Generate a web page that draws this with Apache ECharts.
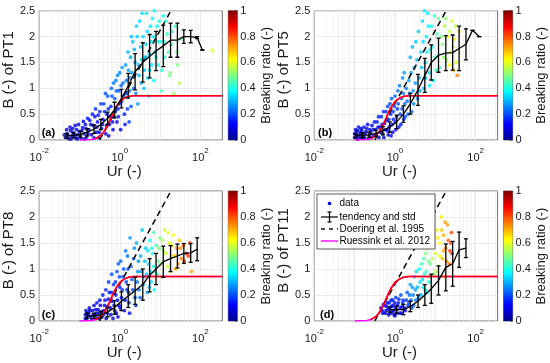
<!DOCTYPE html>
<html><head><meta charset="utf-8">
<script src="https://cdn.jsdelivr.net/npm/echarts@6/dist/echarts.min.js"></script>
<style>html,body{margin:0;padding:0;background:#fff}#c{width:550px;height:363px}</style>
</head><body><div id="c"></div>
<script>
// ---------------- data ----------------
const panelLabels = ['(a)', '(b)', '(c)', '(d)'];
const yNames = ['B (-) of PT1', 'B (-) of PT5', 'B (-) of PT8', 'B (-) of PT11'];
const xTickExponents = [-2, 0, 2];
const yTicks = [0, 0.5, 1, 1.5, 2, 2.5];
const cbTicks = [0, 0.2, 0.4, 0.6, 0.8, 1];
const legendNames = ['data', 'tendency and std', 'Doering et al. 1995', 'Ruessink et al. 2012'];

// scatter: [Ur, B, breaking ratio]
const scatterA = [
[0.045,0.05,0.05],[0.05,0.12,0.06],[0.055,0.02,0.05],[0.06,0.18,0.08],[0.065,0.08,0.05],[0.07,0.14,0.07],[0.08,0.04,0.06],[0.085,0.2,0.1],[0.09,0.1,0.06],[0.1,0.16,0.08],[0.11,0.03,0.05],[0.12,0.24,0.1],
[0.13,0.12,0.08],[0.14,0.3,0.12],[0.15,0.06,0.06],[0.17,0.2,0.1],[0.18,0.38,0.12],[0.2,0.1,0.07],[0.22,0.28,0.12],[0.24,0.45,0.14],[0.26,0.15,0.08],[0.28,0.35,0.12],[0.3,0.05,0.06],
[0.32,0.55,0.15],[0.35,0.22,0.1],[0.38,0.4,0.12],[0.4,0.7,0.18],[0.45,0.12,0.08],[0.48,0.5,0.14],[0.5,0.85,0.2],[0.55,0.3,0.12],[0.6,0.65,0.16],[0.62,1.0,0.22],[0.68,0.2,0.1],[0.72,0.45,0.14],[0.75,0.8,0.2],[0.8,1.15,0.25],
[0.85,0.35,0.12],[0.9,0.6,0.16],[0.95,0.95,0.2],[1.0,1.3,0.26],[1.05,0.2,0.12],[1.1,0.75,0.18],[1.2,1.1,0.22],[1.3,0.5,0.15],[1.4,1.45,0.28],[1.5,0.9,0.2],[1.6,1.7,0.3],[1.7,0.35,0.18],[1.8,1.2,0.25],[1.9,0.65,0.22],
[2.1,1.9,0.32],[2.2,1.0,0.24],[2.4,1.5,0.3],[2.6,2.2,0.34],[2.8,0.7,0.28],[3.0,1.25,0.3],[3.3,1.8,0.33],[3.6,2.45,0.35],[4,1.0,0.32],[4.3,1.6,0.33],[4.8,2.1,0.35],[5.2,0.85,0.38],[5.5,1.35,0.34],[6,1.9,0.36],[6.5,2.35,0.37],[7,1.15,0.38],[7.5,1.7,0.36],
[8.5,2.2,0.38],[9,1.45,0.4],[10,1.9,0.4],[11,0.95,0.45],[12,2.4,0.38],[13,1.6,0.42],[15,2.05,0.42],[17,1.25,0.5],[19,1.85,0.45],[22,0.9,0.52],[24,2.2,0.42],[27,1.45,0.5],[30,1.1,0.55],[35,1.95,0.48],
[200,1.73,0.6],
[0.042,0.1,0.05],[0.048,0.2,0.07],[0.052,0.08,0.05],[0.058,0.25,0.08],[0.062,0.02,0.05],[0.068,0.22,0.08],[0.075,0.1,0.06],[0.078,0.28,0.1],[0.088,0.02,0.05],[0.095,0.3,0.1],[0.105,0.08,0.06],[0.115,0.18,0.08],[0.125,0.36,0.12],[0.135,0.02,0.05],[0.145,0.22,0.08],[0.16,0.42,0.14],[0.165,0.12,0.07],[0.19,0.3,0.1],[0.21,0.5,0.14],[0.23,0.04,0.06],[0.25,0.6,0.16],[0.27,0.25,0.1],[0.29,0.48,0.14],[0.31,0.15,0.08],[0.34,0.7,0.18],[0.37,0.3,0.12],[0.42,0.55,0.15],[0.44,0.9,0.2],[0.47,0.28,0.11],[0.52,0.6,0.16],[0.53,0.08,0.07],[0.58,0.45,0.14],[0.64,0.85,0.2],[0.66,0.35,0.12],[0.7,1.1,0.24],[0.78,0.55,0.16],[0.82,0.95,0.22],[0.88,1.25,0.26],[0.92,0.45,0.15],[0.98,0.7,0.18],[1.08,1.05,0.22],[1.15,1.4,0.28],[1.25,0.85,0.2],[1.35,0.3,0.14],[1.45,1.15,0.25],[1.55,0.6,0.18],[1.65,1.35,0.28],[1.75,0.95,0.22],[1.85,1.6,0.3],[1.95,2.0,0.32],
[2.0,1.3,0.28],[2.3,1.75,0.3],[2.5,0.9,0.26],[2.7,2.0,0.33],[2.9,1.45,0.3],[3.1,2.3,0.34],[3.4,1.1,0.3],[3.5,1.55,0.32],[3.8,2.0,0.34],[4.1,1.35,0.32],[4.5,1.85,0.34],[4.6,2.45,0.36],[5,1.2,0.34],[5.4,1.65,0.34],[5.8,2.2,0.36],[6.2,1.45,0.36],[6.8,2.0,0.36],[7.2,2.5,0.38],[8,1.6,0.38],[8.8,1.9,0.4],[9.5,2.3,0.4],[11,1.35,0.42],[12.5,1.9,0.4],[14,2.3,0.42],[16,1.7,0.44],[18,1.3,0.5],[20,2.1,0.44],[26,1.7,0.48]
];
const scatterB = [
[0.1,0.05,0.05],[0.11,0.15,0.07],[0.12,0.02,0.05],[0.13,0.1,0.06],[0.15,0.18,0.08],[0.16,0.05,0.05],[0.18,0.12,0.07],[0.2,0.22,0.1],[0.22,0.03,0.05],[0.25,0.15,0.08],[0.27,0.28,0.12],[0.3,0.08,0.06],[0.33,0.2,0.1],[0.36,0.35,0.14],[0.4,0.05,0.06],[0.42,0.25,0.12],[0.46,0.45,0.16],[0.5,0.12,0.08],[0.55,0.32,0.13],[0.6,0.55,0.18],[0.65,0.18,0.1],[0.7,0.4,0.15],[0.75,0.7,0.2],[0.8,0.08,0.08],[0.85,0.3,0.14],[0.9,0.55,0.18],[1.0,0.85,0.22],[1.05,0.2,0.12],[1.1,0.45,0.16],[1.2,0.7,0.2],[1.3,1.05,0.25],[1.4,0.3,0.15],[1.5,0.6,0.2],[1.6,0.9,0.24],[1.7,1.3,0.28],[1.8,0.45,0.2],[2.0,0.75,0.24],[2.2,1.15,0.28],[2.4,1.6,0.3],[2.6,0.55,0.22],[2.8,0.95,0.27],[3.0,1.4,0.3],[3.3,1.9,0.32],[3.6,0.8,0.27],[4,1.2,0.3],[4.4,1.7,0.33],[4.8,2.3,0.34],[5.2,1.0,0.3],[5.6,1.5,0.34],[6,2.0,0.36],[6.5,2.45,0.36],[7,1.3,0.35],[7.5,1.75,0.38],[8,2.2,0.4],[9,1.15,0.38],[10,1.6,0.42],[11,2.05,0.45],[12,2.35,0.48],[13,1.4,0.45],[15,1.85,0.5],[17,2.2,0.55],[19,1.55,0.55],[21,2.0,0.6],[24,1.7,0.62],[26,2.3,0.58],[28,1.35,0.7],[30,1.95,0.65],[33,1.5,0.6],[35,1.25,0.75],[38,2.1,0.6],
[0.1,0.12,0.06],[0.105,0.2,0.08],[0.115,0.08,0.05],[0.12,0.18,0.07],[0.125,0.25,0.1],[0.14,0.05,0.05],[0.14,0.14,0.06],[0.145,0.22,0.09],[0.155,0.1,0.06],[0.17,0.25,0.1],[0.175,0.05,0.05],[0.19,0.16,0.07],[0.21,0.3,0.12],[0.23,0.1,0.06],[0.24,0.2,0.08],[0.26,0.05,0.05],[0.29,0.2,0.09],[0.31,0.35,0.14],[0.34,0.1,0.07],[0.38,0.25,0.11],[0.39,0.45,0.16],[0.44,0.15,0.08],[0.48,0.3,0.12],[0.52,0.55,0.17],[0.53,0.05,0.06],[0.58,0.2,0.1],[0.62,0.38,0.14],[0.66,0.65,0.19],[0.68,0.1,0.08],[0.72,0.25,0.12],[0.78,0.5,0.16],[0.82,0.8,0.21],[0.88,0.15,0.1],[0.92,0.4,0.15],[0.96,0.65,0.19],[1.02,0.35,0.15],[1.15,0.6,0.18],[1.18,0.95,0.23],[1.25,0.25,0.14],[1.35,0.5,0.18],[1.45,0.8,0.22],[1.55,1.2,0.27],[1.65,0.4,0.18],[1.75,0.7,0.22],[1.9,1.0,0.25],[2.1,0.5,0.22],[2.3,0.9,0.26],[2.5,1.3,0.29],[2.7,1.8,0.31],[2.9,0.7,0.25],[3.2,1.1,0.28],[3.5,1.55,0.31],[3.8,2.1,0.33],[4.2,0.95,0.29],[4.6,1.4,0.32],[5,1.9,0.34],[5.4,2.5,0.36],[5.8,1.2,0.33],[6.2,1.7,0.36],[6.8,2.2,0.37],[7.2,1.05,0.36],[8.5,1.8,0.4],[9.5,2.4,0.42],[10.5,1.35,0.42],[14,2.0,0.5],[16,1.6,0.52],[18,2.35,0.52],[22,1.45,0.62],[23,2.1,0.58],[27,1.8,0.6],[32,2.2,0.56]
];
const scatterC = [
[0.14,0.05,0.05],[0.15,0.15,0.06],[0.16,0.1,0.05],[0.18,0.2,0.08],[0.2,0.03,0.05],[0.22,0.12,0.06],[0.25,0.22,0.08],[0.28,0.06,0.05],[0.3,0.15,0.07],[0.33,0.3,0.1],[0.36,0.08,0.06],[0.4,0.2,0.08],[0.43,0.4,0.12],[0.46,0.05,0.06],[0.5,0.28,0.1],[0.55,0.55,0.15],[0.6,0.12,0.08],[0.65,0.38,0.12],[0.7,0.7,0.18],[0.75,0.2,0.1],[0.8,0.5,0.14],[0.85,0.95,0.2],[0.9,0.08,0.08],[0.95,0.3,0.12],[1.0,0.65,0.16],[1.05,1.15,0.22],[1.1,0.45,0.14],[1.2,0.85,0.2],[1.3,0.2,0.12],[1.4,1.35,0.25],[1.5,0.6,0.18],[1.6,1.0,0.22],[1.7,0.35,0.16],[1.8,1.6,0.28],[2.0,0.8,0.22],[2.2,1.2,0.26],[2.4,0.45,0.2],[2.6,1.5,0.3],[2.8,0.95,0.26],[3.0,0.6,0.24],[3.3,1.25,0.3],[3.6,1.75,0.32],[4,0.85,0.3],[4.4,1.4,0.33],[4.8,0.55,0.3],[5.2,1.1,0.34],[5.6,1.55,0.38],[6,0.75,0.36],[6.5,1.3,0.4],[7,1.7,0.45],[7.5,0.95,0.42],[8,1.45,0.45],[9,1.15,0.48],[10,1.6,0.5],[11,0.85,0.5],[12,1.35,0.55],[13,1.75,0.58],[15,1.05,0.58],[17,1.5,0.6],[19,1.25,0.65],[21,1.65,0.62],[24,1.0,0.7],[26,1.4,0.72],[30,1.55,0.68],[34,1.2,0.75],[38,1.45,0.78],[45,1.3,0.85],[55,1.5,0.8],[60,0.95,0.72],
[0.14,0.12,0.06],[0.145,0.2,0.07],[0.15,0.05,0.05],[0.17,0.15,0.06],[0.175,0.25,0.09],[0.19,0.08,0.05],[0.21,0.2,0.07],[0.23,0.3,0.1],[0.24,0.1,0.06],[0.26,0.15,0.06],[0.27,0.35,0.12],[0.29,0.22,0.08],[0.31,0.05,0.05],[0.32,0.4,0.13],[0.35,0.18,0.07],[0.38,0.5,0.14],[0.39,0.12,0.06],[0.42,0.3,0.1],[0.45,0.6,0.16],[0.48,0.15,0.07],[0.52,0.42,0.12],[0.53,0.75,0.18],[0.58,0.25,0.1],[0.62,0.55,0.15],[0.63,0.9,0.2],[0.68,0.05,0.07],[0.72,0.3,0.11],[0.78,0.75,0.18],[0.82,0.15,0.09],[0.88,0.4,0.13],[0.92,1.1,0.22],[0.98,0.85,0.19],[1.02,0.25,0.11],[1.15,0.6,0.16],[1.25,1.0,0.21],[1.35,0.4,0.14],[1.45,0.75,0.19],[1.55,1.25,0.24],[1.65,0.55,0.18],[1.75,0.15,0.13],[1.9,1.05,0.23],[2.1,0.6,0.2],[2.3,1.4,0.27],[2.5,0.3,0.18],[2.7,0.75,0.23],[2.9,1.15,0.27],[3.2,0.45,0.22],[3.4,0.95,0.27],[3.8,0.7,0.27],[4.2,1.15,0.31],[4.6,0.9,0.31],[5,1.35,0.35],[5.4,0.65,0.32],[5.8,0.95,0.36],[6.2,1.4,0.4],[6.8,1.05,0.4],[7.2,0.6,0.38],[8.5,0.9,0.45],[9.5,1.4,0.5],[10.5,1.1,0.5],[11.5,1.55,0.55],[14,1.3,0.58],[16,1.7,0.6],[18,0.95,0.62],[20,1.45,0.65],[23,1.25,0.68],[28,1.1,0.72],[32,1.4,0.74],[40,1.15,0.8],[50,1.25,0.82]
];
const scatterD = [
[0.45,0.25,0.1],[0.5,0.15,0.08],[0.55,0.3,0.12],[0.6,0.2,0.08],[0.65,0.35,0.14],[0.7,0.12,0.06],[0.75,0.25,0.1],[0.8,0.4,0.16],[0.85,0.18,0.08],[0.9,0.3,0.12],[1.0,0.1,0.06],[1.05,0.45,0.18],[1.1,0.22,0.1],[1.2,0.35,0.14],[1.3,0.15,0.08],[1.4,0.5,0.2],[1.5,0.28,0.15],[1.6,0.4,0.18],[1.8,0.2,0.12],[2.0,0.55,0.22],[2.2,0.35,0.2],[2.4,0.7,0.28],[2.6,0.25,0.18],[2.8,0.5,0.25],[3.0,0.85,0.32],[3.3,0.4,0.25],[3.6,0.65,0.3],[4,1.0,0.38],[4.4,0.5,0.3],[4.8,0.8,0.36],[5.2,1.2,0.45],[5.6,0.6,0.35],[6,0.95,0.42],[6.5,1.4,0.5],[7,0.75,0.4],[7.5,1.1,0.48],[8,1.6,0.55],[9,0.9,0.5],[10,1.3,0.58],[11,1.75,0.6],[12,1.05,0.55],[13,1.5,0.62],[14,2.0,0.65],[15,1.2,0.68],[16,1.65,0.7],[17,0.85,0.62],[18,1.4,0.75],[20,1.85,0.72],[22,1.1,0.78],[24,1.5,0.8],[26,1.3,0.88],
[0.48,0.2,0.08],[0.52,0.32,0.12],[0.58,0.15,0.07],[0.62,0.28,0.1],[0.68,0.22,0.09],[0.72,0.35,0.14],[0.78,0.15,0.07],[0.82,0.28,0.11],[0.88,0.4,0.15],[0.92,0.2,0.08],[0.95,0.12,0.07],[0.98,0.35,0.14],[1.02,0.25,0.1],[1.08,0.15,0.08],[1.15,0.3,0.12],[1.25,0.42,0.16],[1.35,0.25,0.11],[1.45,0.15,0.1],[1.55,0.35,0.16],[1.7,0.25,0.14],[1.9,0.4,0.18],[2.1,0.3,0.18],[2.3,0.5,0.23],[2.5,0.4,0.22],[2.7,0.65,0.28],[2.9,0.3,0.22],[3.2,0.6,0.28],[3.4,0.95,0.34],[3.8,0.45,0.28],[4.2,0.75,0.34],[4.6,1.1,0.42],[5,0.65,0.36],[5.4,0.9,0.42],[5.8,1.3,0.5],[6.2,0.55,0.38],[6.8,1.15,0.5],[7.2,0.85,0.46],[8.5,1.2,0.55],[9.5,1.45,0.6],[10.5,0.95,0.56],[11.5,1.6,0.64],[13,1.25,0.62],[14.5,1.75,0.68],[16,1.35,0.7],[17.5,1.9,0.72],[19,1.15,0.74],[21,1.55,0.78],[23,1.35,0.82],[25,1.7,0.8]
];

// tendency: [Ur, mean B, std]
const trendA = [[0.048,0.08,0.05],[0.071,0.09,0.05],[0.105,0.11,0.06],[0.155,0.15,0.07],[0.229,0.21,0.08],[0.339,0.3,0.1],[0.5,0.42,0.12],[0.74,0.58,0.15],[1.1,0.8,0.18],[1.62,1.05,0.24],[2.4,1.32,0.35],[3.72,1.5,0.38],[5.5,1.62,0.42],[7.94,1.72,0.38],[12,1.82,0.4],[18.2,1.93,0.33],[26.9,1.93,0.33],[38.9,2.0,0.13],[57.5,2.0,0.12],[83.2,1.98,0.02],[112,1.74,0]];
const trendB = [[0.105,0.08,0.04],[0.155,0.09,0.05],[0.229,0.1,0.05],[0.339,0.13,0.06],[0.5,0.18,0.08],[0.74,0.25,0.1],[1.1,0.35,0.13],[1.62,0.5,0.16],[2.4,0.7,0.2],[3.72,0.97,0.3],[5.5,1.25,0.33],[7.94,1.5,0.34],[12,1.64,0.33],[18.2,1.68,0.34],[26.9,1.69,0.34],[38.9,1.77,0.43],[57.5,1.85,0.3],[83.2,2.12,0],[123,2.0,0]];
const trendC = [[0.155,0.1,0.05],[0.229,0.1,0.05],[0.339,0.12,0.06],[0.5,0.17,0.09],[0.74,0.26,0.13],[1.1,0.38,0.18],[1.62,0.48,0.22],[2.4,0.58,0.26],[3.72,0.7,0.3],[5.5,0.88,0.32],[7.94,1.0,0.3],[12,1.14,0.3],[18.2,1.2,0.25],[26.9,1.25,0.23],[38.9,1.3,0.19],[57.5,1.31,0.18],[83.2,1.38,0.22]];
const trendD = [[0.74,0.22,0.05],[1.1,0.22,0.07],[1.62,0.22,0.1],[2.4,0.28,0.1],[3.72,0.38,0.12],[5.5,0.5,0.2],[7.94,0.62,0.28],[12,0.78,0.28],[18.2,1.03,0.45],[26.9,1.1,0.43],[38.9,1.37,0.34],[57.5,1.4,0.18]];

// reference curves
const doeringUr = [0.316, 18.6];
const doeringB = [0, 2.5];
const ruessinkUr = [0.1, 0.2, 0.25, 0.3, 0.35, 0.4, 0.5, 0.6, 0.7, 0.8, 1.0, 1.3, 1.7, 2.2, 3, 5, 10, 350];
const ruessinkB  = [0.0, 0.01, 0.03, 0.06, 0.1, 0.15, 0.28, 0.42, 0.54, 0.63, 0.74, 0.81, 0.845, 0.855, 0.857, 0.857, 0.857, 0.857];

// ---------------- layout / style ----------------
const FONT = "'Liberation Sans', Arial, Helvetica, sans-serif";
const scatters = [scatterA, scatterB, scatterC, scatterD];
const trends = [trendA, trendB, trendC, trendD];
const boxes = [
  {left: 39, top: 10.7, h: 129.3, lx: 41.7, ly: 133},
  {left: 314.3, top: 10.7, h: 129.3, lx: 318, ly: 133},
  {left: 39, top: 191, h: 130, lx: 41.7, ly: 314.5},
  {left: 314.3, top: 191, h: 130, lx: 320, ly: 314.5}
];
const PW = 183.3;
const jet = ['#00008f','#0000ff','#0080ff','#00ffff','#80ff80','#ffff00','#ff8000','#ff0000','#800000'];

const gridVals = [];
for (let e = -2; e <= 2; e++) for (let k = 1; k <= 9; k++) { const v = k * Math.pow(10, e); if (v <= 350) gridVals.push({v: v, major: k === 1}); }

const grids = [], xAxes = [], yAxes = [], series = [], graphics = [];
const scatterIdx = [];

function xFmt(v) {
  const l = Math.log10(v), e = Math.round(l);
  if (Math.abs(l - e) > 1e-6 || xTickExponents.indexOf(e) < 0) return '';
  return '{b|10}{s|' + e + '}';
}

boxes.forEach((b, i) => {
  grids.push({left: b.left, top: b.top, width: PW, height: b.h, show: true, borderColor: '#707070', borderWidth: 1, backgroundColor: 'transparent'});
  xAxes.push({type: 'log', logBase: 10, gridIndex: i, min: 0.01, max: 350, splitNumber: 4,
    axisLine: {show: false}, axisTick: {show: false}, splitLine: {show: false},
    axisLabel: {formatter: xFmt, margin: 7, showMaxLabel: false,
      rich: {b: {fontSize: 11, fontFamily: FONT, color: '#1a1a1a', lineHeight: 16, verticalAlign: 'bottom'},
             s: {fontSize: 8, fontFamily: FONT, color: '#1a1a1a', lineHeight: 4, verticalAlign: 'top'}}},
    name: 'Ur (-)', nameLocation: 'middle', nameGap: 14,
    nameTextStyle: {fontSize: 15, fontFamily: FONT, color: '#1a1a1a', padding: [0, 13, 0, 0]}});
  yAxes.push({type: 'value', gridIndex: i, min: 0, max: 2.5, interval: 0.5,
    axisLine: {show: false}, axisTick: {show: false},
    splitLine: {show: true, lineStyle: {color: '#e2e2e2', width: 0.7}},
    axisLabel: {fontSize: 11, fontFamily: FONT, color: '#1a1a1a', margin: 4, formatter: v => yTicks.indexOf(v) >= 0 ? String(v) : ''},
    name: yNames[i], nameLocation: 'middle', nameGap: 22, nameRotate: 90,
    nameTextStyle: {fontSize: 15, fontFamily: FONT, color: '#1a1a1a', padding: [0, 0, 0, 11]}});
});
// colorbars
boxes.forEach((b, i) => {
  grids.push({left: b.left + 189.3, top: b.top, width: 9, height: b.h, show: true, borderColor: '#444', borderWidth: 0.8, backgroundColor: 'transparent'});
  xAxes.push({type: 'category', gridIndex: 4 + i, data: ['c'], show: false});
  yAxes.push({type: 'value', gridIndex: 4 + i, min: 0, max: 1, interval: 0.2, position: 'right',
    axisLine: {show: false}, axisTick: {show: true, inside: true, length: 2, lineStyle: {color: '#333', width: 0.7}},
    splitLine: {show: false},
    axisLabel: {fontSize: 11, fontFamily: FONT, color: '#1a1a1a', margin: 3, formatter: v => cbTicks.indexOf(+v.toFixed(1)) >= 0 ? String(+v.toFixed(1)) : ''},
    name: 'Breaking ratio (-)', nameLocation: 'middle', nameGap: 15, nameRotate: 90,
    nameTextStyle: {fontSize: 13, fontFamily: FONT, color: '#1a1a1a'}});
});

boxes.forEach((b, i) => {
  // grid lines (vertical, log minor + major)
  series.push({type: 'line', xAxisIndex: i, yAxisIndex: i, data: [], z: 1, silent: true,
    markLine: {silent: true, z: 1, symbol: ['none', 'none'], label: {show: false}, animation: false,
      lineStyle: {color: '#ececec', width: 0.6, type: 'solid'},
      data: gridVals.map(g => ({xAxis: g.v, lineStyle: {color: g.major ? '#dedede' : '#ececec', width: 0.6, type: 'solid'}}))}});
  // scatter
  scatterIdx.push(series.length);
  series.push({type: 'scatter', name: legendNames[0], xAxisIndex: i, yAxisIndex: i, data: scatters[i], symbol: 'circle', symbolSize: 3.8, z: 2, silent: true, encode: {x: 0, y: 1}});
  // Doering
  series.push({type: 'line', name: legendNames[2], xAxisIndex: i, yAxisIndex: i, data: doeringUr.map((u, k) => [u, doeringB[k]]), symbol: 'none', silent: true, z: i === 0 ? 1.5 : 3,
    lineStyle: {color: '#000', width: 1.5, type: [6, 4]}});
  // Ruessink: magenta underlay and red overlay
  series.push({type: 'line', name: legendNames[3], xAxisIndex: i, yAxisIndex: i, data: ruessinkUr.map((u, k) => [u, ruessinkB[k]]), symbol: 'none', silent: true, z: 4,
    lineStyle: {color: '#ff00ff', width: 1.6}});
  series.push({type: 'line', xAxisIndex: i, yAxisIndex: i, data: ruessinkUr.map((u, k) => [u, ruessinkB[k]]).filter(p => p[0] >= 0.25), symbol: 'none', silent: true, z: 4,
    lineStyle: {color: '#ff0000', width: 1.6}});
  // tendency
  series.push({type: 'line', name: legendNames[1], xAxisIndex: i, yAxisIndex: i, data: trends[i].map(d => [d[0], d[1]]), symbol: 'none', silent: true, z: 5,
    lineStyle: {color: '#000', width: 1.3}});
  series.push({type: 'custom', xAxisIndex: i, yAxisIndex: i, data: trends[i], z: 5, silent: true, clip: true,
    encode: {x: 0, y: 1},
    renderItem: (params, api) => {
      const x = api.value(0), m = api.value(1), s = api.value(2);
      const t = api.coord([x, m + s]), bt = api.coord([x, m - s]);
      const c = 2, st = {stroke: '#000', lineWidth: 1.3};
      return {type: 'group', children: [
        {type: 'line', shape: {x1: t[0], y1: t[1], x2: bt[0], y2: bt[1]}, style: st},
        {type: 'line', shape: {x1: t[0] - c, y1: t[1], x2: t[0] + c, y2: t[1]}, style: st},
        {type: 'line', shape: {x1: bt[0] - c, y1: bt[1], x2: bt[0] + c, y2: bt[1]}, style: st}
      ]};
    }});
  // colorbar
  series.push({type: 'bar', xAxisIndex: 4 + i, yAxisIndex: 4 + i, data: [1], barWidth: '100%', silent: true,
    itemStyle: {color: new echarts.graphic.LinearGradient(0, 1, 0, 0, jet.map((c, k) => ({offset: k / (jet.length - 1), color: c})))}});
  // panel label
  graphics.push({type: 'text', x: b.lx, y: b.ly, z: 50, style: {text: panelLabels[i], fontSize: 11, fontWeight: 'bold', fontFamily: FONT, fill: '#000', verticalAlign: 'middle'}});
});

// legend box in panel (d)
const LX = 317, LY = 194, rowY = [203.5, 217, 229, 241], tx = 339.5;
graphics.push({type: 'rect', z: 60, shape: {x: LX, y: LY, width: 118, height: 55}, style: {fill: '#fff', stroke: '#333', lineWidth: 0.8}});
graphics.push({type: 'circle', z: 61, shape: {cx: 329.5, cy: rowY[0], r: 1.8}, style: {fill: '#0000e6'}});
graphics.push({type: 'line', z: 61, shape: {x1: 321, y1: rowY[1], x2: 338, y2: rowY[1]}, style: {stroke: '#000', lineWidth: 1.2}});
graphics.push({type: 'line', z: 61, shape: {x1: 329.5, y1: rowY[1] - 5, x2: 329.5, y2: rowY[1] + 5}, style: {stroke: '#000', lineWidth: 1.2}});
graphics.push({type: 'line', z: 61, shape: {x1: 327.5, y1: rowY[1] - 5, x2: 331.5, y2: rowY[1] - 5}, style: {stroke: '#000', lineWidth: 1.2}});
graphics.push({type: 'line', z: 61, shape: {x1: 327.5, y1: rowY[1] + 5, x2: 331.5, y2: rowY[1] + 5}, style: {stroke: '#000', lineWidth: 1.2}});
graphics.push({type: 'line', z: 61, shape: {x1: 321, y1: rowY[2], x2: 338, y2: rowY[2]}, style: {stroke: '#000', lineWidth: 1.4, lineDash: [4, 4]}});
graphics.push({type: 'line', z: 61, shape: {x1: 321, y1: rowY[3], x2: 338, y2: rowY[3]}, style: {stroke: '#ff00ff', lineWidth: 1.4}});
legendNames.forEach((n, k) => {
  graphics.push({type: 'text', z: 61, x: tx, y: rowY[k], style: {text: n, fontSize: 10, fontFamily: FONT, fill: '#000', verticalAlign: 'middle'}});
});

const chart = echarts.init(document.getElementById('c'), null, {renderer: 'canvas'});
chart.setOption({
  animation: false,
  backgroundColor: '#fff',
  grid: grids, xAxis: xAxes, yAxis: yAxes,
  visualMap: {type: 'continuous', show: false, min: 0, max: 1, dimension: 2, seriesIndex: scatterIdx, inRange: {color: jet}},
  series: series,
  graphic: graphics
});
</script></body></html>
